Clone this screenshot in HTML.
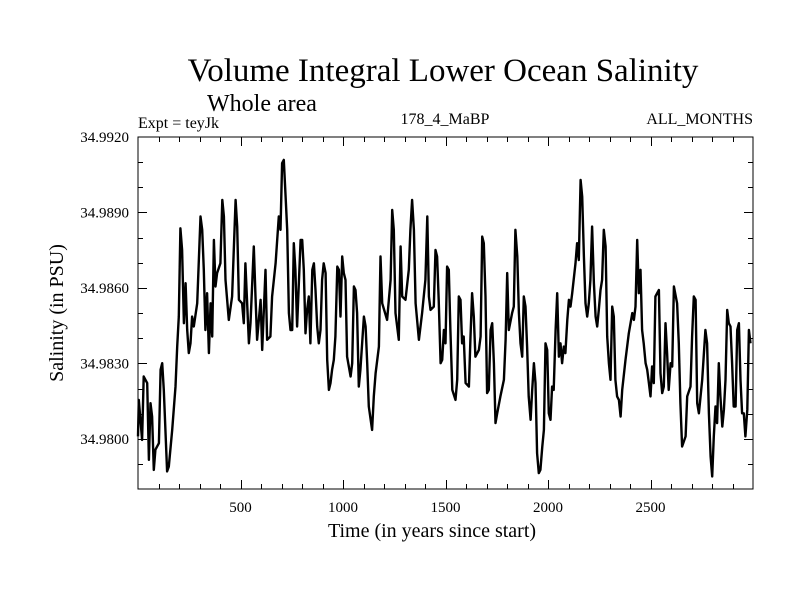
<!DOCTYPE html>
<html><head><meta charset="utf-8">
<style>
html,body{margin:0;padding:0;background:#fff;}
svg{display:block;font-family:"Liberation Serif",serif;}
</style></head>
<body>
<svg id="chart" width="800" height="600" viewBox="0 0 800 600" xmlns="http://www.w3.org/2000/svg">
<rect width="800" height="600" fill="#fff"/>
<text x="443" y="81" font-size="33" text-anchor="middle">Volume Integral Lower Ocean Salinity</text>
<text x="262" y="111" font-size="24" text-anchor="middle">Whole area</text>
<text x="138" y="128" font-size="16">Expt = teyJk</text>
<text x="445" y="124" font-size="16" text-anchor="middle">178_4_MaBP</text>
<text x="753" y="124" font-size="16" text-anchor="end">ALL_MONTHS</text>
<text x="432" y="537" font-size="20" text-anchor="middle">Time (in years since start)</text>
<text transform="translate(63,313) rotate(-90)" font-size="20" text-anchor="middle">Salinity (in PSU)</text>
<g id="ticks"></g>
<g id="series"></g>
<rect x="138" y="137" width="615" height="352" fill="none" stroke="#000" stroke-width="1"/>
</svg>
<script>
const years = [0,4,20,28,45,53,61,69,77,85,102,110,118,126,142,150,167,183,191,199,207,215,224,232,240,248,256,264,272,289,305,313,321,329,337,346,354,362,370,378,386,402,411,419,427,443,459,476,484,492,508,516,524,541,549,565,573,581,598,606,622,630,646,654,671,687,695,703,711,720,728,736,744,752,760,768,776,793,801,809,817,825,833,841,850,858,866,874,882,890,898,906,915,923,931,939,947,955,963,972,980,988,996,1004,
1012,1020,1037,1045,1053,1061,1069,1077,1085,1102,1110,1118,1126,1142,1150,1159,1175,1183,1191,1215,1232,1240,1248,1256,1272,1281,1289,1305,1321,1329,1337,1346,1354,1370,1386,1402,1411,1419,1427,1443,1451,1459,1467,1476,1484,1492,1500,1508,1516,1524,1533,1549,1557,1565,1573,1581,1589,1598,1614,1622,1630,1638,1646,1663,1671,1679,1687,1695,1703,1711,1720,1728,1736,1744,1752,1768,1785,1793,1801,1809,1825,1833,1841,1850,1858,1866,1874,1882,1890,1898,1906,1915,1923,1931,1939,1947,1955,1963,1972,1980,1988,1996,2004,
2012,2020,2028,2037,2045,2053,2061,2069,2077,2085,2094,2102,2110,2118,2134,2142,2150,2159,2167,2175,2183,2191,2199,2207,2215,2224,2232,2240,2248,2256,2264,2272,2281,2289,2297,2305,2313,2321,2329,2337,2346,2354,2362,2378,2394,2411,2419,2427,2435,2443,2451,2459,2467,2476,2484,2492,2500,2508,2516,2524,2541,2549,2557,2565,2573,2581,2589,2598,2606,2614,2630,2638,2646,2654,2671,2679,2695,2703,2711,2720,2728,2736,2752,2768,2776,2785,2793,2801,2809,2817,2825,2833,2841,2850,2858,2866,2874,2882,2890,2898,2906,2915,2923,2931,2939,2947,2955,2963,2972,2980,2988,2996];
const salinity = [34.98010,34.98155,34.97996,34.98248,34.98222,34.97917,34.98142,34.98089,34.97877,34.97957,34.97983,34.98275,34.98301,34.98195,34.97871,34.97890,34.98036,34.98208,34.98367,34.98486,34.98837,34.98751,34.98460,34.98619,34.98433,34.98341,34.98380,34.98486,34.98447,34.98539,34.98884,34.98831,34.98672,34.98433,34.98579,34.98341,34.98539,34.98407,34.98791,34.98606,34.98659,34.98698,34.98950,34.98884,34.98632,34.98473,34.98566,34.98950,34.98844,34.98553,34.98539,34.98460,34.98698,34.98380,34.98460,34.98765,34.98566,34.98394,34.98553,34.98354,34.98672,34.98394,34.98407,34.98566,34.98698,34.98884,34.98831,34.99096,34.99109,34.98963,34.98831,34.98500,34.98433,34.98433,34.98778,34.98672,34.98447,34.98791,34.98791,34.98672,34.98420,34.98513,34.98566,34.98380,34.98672,34.98698,34.98592,34.98447,34.98380,34.98433,34.98632,34.98698,34.98659,34.98314,34.98195,34.98222,34.98275,34.98314,34.98407,34.98685,34.98672,34.98486,34.98725,34.98659,
34.98632,34.98327,34.98248,34.98301,34.98606,34.98592,34.98500,34.98208,34.98275,34.98486,34.98447,34.98301,34.98129,34.98036,34.98169,34.98261,34.98367,34.98725,34.98539,34.98473,34.98632,34.98910,34.98831,34.98500,34.98394,34.98765,34.98566,34.98553,34.98672,34.98831,34.98950,34.98831,34.98539,34.98394,34.98500,34.98632,34.98884,34.98566,34.98513,34.98526,34.98751,34.98725,34.98553,34.98301,34.98314,34.98433,34.98380,34.98685,34.98672,34.98433,34.98195,34.98155,34.98235,34.98566,34.98553,34.98380,34.98407,34.98222,34.98208,34.98407,34.98579,34.98486,34.98327,34.98354,34.98407,34.98804,34.98778,34.98566,34.98182,34.98195,34.98433,34.98460,34.98301,34.98063,34.98102,34.98169,34.98235,34.98394,34.98659,34.98433,34.98500,34.98526,34.98831,34.98725,34.98500,34.98380,34.98327,34.98566,34.98526,34.98367,34.98169,34.98076,34.98195,34.98301,34.98222,34.97943,34.97864,34.97877,34.97970,34.98036,34.98380,34.98354,34.98102,
34.98076,34.98208,34.98195,34.98433,34.98579,34.98327,34.98380,34.98301,34.98367,34.98341,34.98473,34.98553,34.98526,34.98579,34.98698,34.98778,34.98711,34.99029,34.98963,34.98725,34.98539,34.98486,34.98539,34.98632,34.98844,34.98619,34.98486,34.98447,34.98513,34.98592,34.98632,34.98831,34.98765,34.98407,34.98301,34.98235,34.98526,34.98486,34.98235,34.98169,34.98155,34.98089,34.98195,34.98314,34.98420,34.98500,34.98473,34.98526,34.98791,34.98579,34.98672,34.98433,34.98380,34.98301,34.98275,34.98222,34.98169,34.98288,34.98222,34.98566,34.98592,34.98261,34.98182,34.98208,34.98460,34.98341,34.98195,34.98301,34.98288,34.98606,34.98539,34.98380,34.98142,34.97970,34.98010,34.98169,34.98208,34.98407,34.98566,34.98553,34.98142,34.98102,34.98235,34.98433,34.98380,34.98102,34.97930,34.97851,34.98010,34.98129,34.98063,34.98301,34.98169,34.98049,34.98116,34.98235,34.98513,34.98460,34.98447,34.98301,34.98129,34.98129,34.98433,34.98460,34.98235,34.98102,34.98102,34.98010,34.98116,34.98433,34.98380];
const xTickLabels = [500,1000,1500,2000,2500];
const yTickLabels = ["34.9800","34.9830","34.9860","34.9890","34.9920"];

const NS = "http://www.w3.org/2000/svg";
const L = 138, R = 753, T = 137, B = 489;
const X0 = 0, X1 = 3000, Y0 = 34.97801, Y1 = 34.9920;
function xs(v){ return L + (v - X0) / (X1 - X0) * (R - L); }
function ys(v){ return B - (v - Y0) / (Y1 - Y0) * (B - T); }

const tg = document.getElementById('ticks');
function line(x1,y1,x2,y2){
  const l = document.createElementNS(NS,'line');
  l.setAttribute('x1',x1);l.setAttribute('y1',y1);l.setAttribute('x2',x2);l.setAttribute('y2',y2);
  l.setAttribute('stroke','#000');l.setAttribute('stroke-width','1');
  
  
  tg.appendChild(l);
}
for (let v = 100; v < 3000; v += 100) {
  const major = v % 500 === 0, len = major ? 9 : 5, x = Math.round(xs(v)) + 0.5;
  line(x, B, x, B - len); line(x, T, x, T + len);
}
for (let k = 1; k < 14; k++) {
  const v = 34.978 + k * 0.001;
  if (ys(v) < T) continue;
  const major = k % 3 === 2, len = major ? 9 : 5, y = Math.round(ys(v)) + 0.5;
  line(L, y, L + len, y); line(R, y, R - len, y);
}
xTickLabels.forEach(v => {
  const t = document.createElementNS(NS,'text');
  t.setAttribute('x', xs(v)); t.setAttribute('y', 512);
  t.setAttribute('font-size','15'); t.setAttribute('text-anchor','middle');
  t.textContent = v;
  
  
  tg.appendChild(t);
});
yTickLabels.forEach(s => {
  const t = document.createElementNS(NS,'text');
  t.setAttribute('x', 129); t.setAttribute('y', ys(parseFloat(s)) + 5);
  t.setAttribute('font-size','15'); t.setAttribute('text-anchor','end');
  t.textContent = s;
  
  
  tg.appendChild(t);
});
const p = document.createElementNS(NS,'polyline');
p.setAttribute('points', years.map((yr,i) => xs(yr).toFixed(1) + ',' + ys(salinity[i]).toFixed(1)).join(' '));
p.setAttribute('fill','none'); p.setAttribute('stroke','#000'); p.setAttribute('stroke-width','2.4');
p.setAttribute('stroke-linejoin','round');


document.getElementById('series').appendChild(p);
</script>
</body></html>
